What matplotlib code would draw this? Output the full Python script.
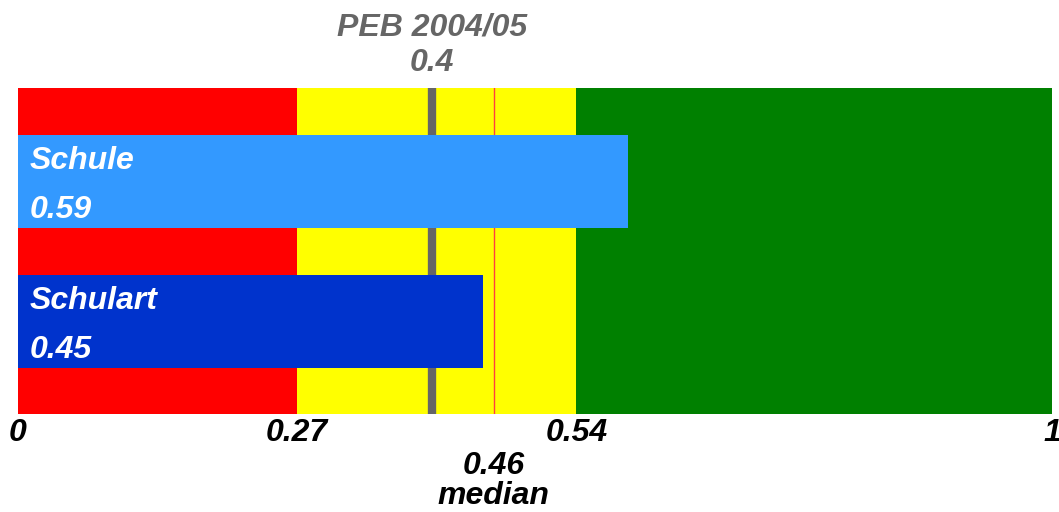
import matplotlib
matplotlib.use("Agg")
import matplotlib.pyplot as plt

# data
band_edges = [0, 0.27, 0.54, 1]
band_colors = ['#ff0000', '#ffff00', '#008000']
bar_names = ['Schule', 'Schulart']
bar_values = [0.59, 0.45]
bar_colors = ['#3399ff', '#0033cc']
peb_label = 'PEB 2004/05'
peb_value = 0.4
median_value = 0.46
tick_values = [0, 0.27, 0.54, 1]
tick_labels = ['0', '0.27', '0.54', '1']

plt.rcParams['font.family'] = ['Liberation Sans', 'DejaVu Sans']
fs = 23

fig = plt.figure(figsize=(10.59, 5.12), dpi=100)
ax = fig.add_axes([18/1059, 1-414/512, 1034/1059, 326/512])

for i in range(len(band_colors)):
    ax.axvspan(band_edges[i], band_edges[i+1], color=band_colors[i], lw=0, zorder=0)

ax.axvline(peb_value, color='#666666', lw=6, zorder=1)
ax.axvline(median_value, color='#ff4040', lw=1, zorder=1)

ypos = list(range(len(bar_names)))
ax.barh(ypos, bar_values, height=0.664, color=bar_colors, zorder=2)
for y, n, v in zip(ypos, bar_names, bar_values):
    ax.text(0.0115, y-0.15, n, color='white', fontsize=fs, fontstyle='italic',
            fontweight='bold', va='center', ha='left', zorder=3)
    ax.text(0.0115, y+0.2, str(v), color='white', fontsize=fs, fontstyle='italic',
            fontweight='bold', va='center', ha='left', zorder=3)

ax.set_xlim(0, 1)
ax.set_ylim(1.66, -0.67)
ax.set_yticks([])
ax.set_xticks(tick_values)
ax.set_xticklabels(tick_labels, fontsize=fs, fontstyle='italic', fontweight='bold')
ax.tick_params(axis='x', length=0, pad=3)
for s in ax.spines.values():
    s.set_visible(False)

# labels above and below
kw = dict(fontsize=fs, fontstyle='italic', fontweight='bold', ha='center',
          va='center', clip_on=False)
ax.text(peb_value, -1.105, peb_label, color='#666666', **kw)
ax.text(peb_value, -0.85, str(peb_value), color='#666666', **kw)
ax.text(median_value, 2.03, str(median_value), color='black', **kw)
ax.text(median_value, 2.245, 'median', color='black', **kw)

fig.savefig('out.png', dpi=100, facecolor='white')
